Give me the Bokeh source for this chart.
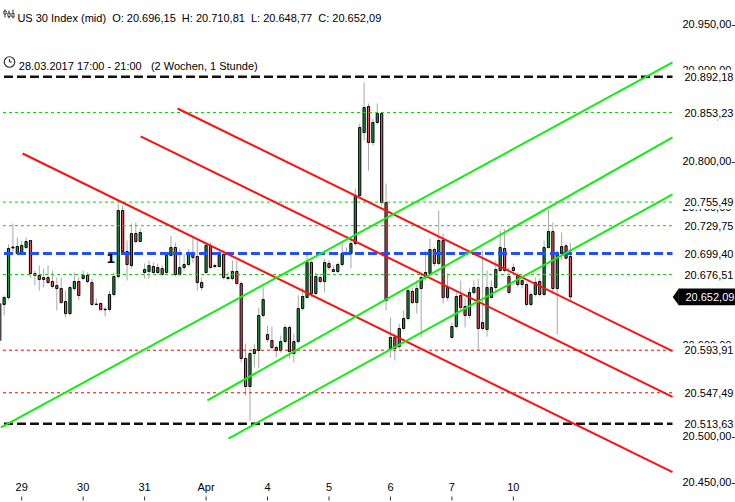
from bokeh.plotting import figure
from bokeh.models import ColumnDataSource, Range1d
from bokeh.core.properties import value
from bokeh.embed import file_html
from bokeh.resources import INLINE

# ---------------- data (hourly candles, US 30 Index) ----------------
opens = [20604.5, 20643.8, 20651.4, 20705.4, 20699.4, 20700.5, 20706.0, 20713.6, 20677.6, 20675.4,
         20673.2, 20673.2, 20668.9, 20664.5, 20661.2, 20647.0, 20633.9, 20661.2, 20668.9, 20672.1,
         20675.4, 20667.8, 20644.3, 20644.9, 20638.6, 20638.3, 20654.7, 20674.3, 20746.3, 20701.6,
         20686.3, 20721.2, 20712.5, 20678.7, 20679.8, 20685.2, 20678.7, 20683.0, 20678.7, 20697.2,
         20706.0, 20676.5, 20684.1, 20687.4, 20698.3, 20696.1, 20667.8, 20678.7, 20707.1, 20686.3,
         20685.2, 20698.3, 20673.2, 20672.1, 20679.8, 20666.7, 20584.9, 20554.3, 20590.3, 20593.6,
         20631.8, 20611.0, 20604.5, 20596.9, 20593.6, 20603.4, 20618.7, 20590.3, 20603.4, 20639.4,
         20651.4, 20689.6, 20655.8, 20673.2, 20668.9, 20688.5, 20681.9, 20679.8, 20687.4, 20700.0,
         20699.4, 20710.3, 20762.7, 20831.4, 20859.8, 20820.5, 20842.3, 20852.1, 20755.0, 20595.8,
         20607.8, 20597.9, 20617.6, 20628.5, 20658.0, 20645.9, 20661.2, 20673.2, 20677.6, 20703.8,
         20688.5, 20713.6, 20651.4, 20607.8, 20619.8, 20653.6, 20641.6, 20631.8, 20656.9, 20662.3,
         20624.1, 20616.5, 20651.4, 20662.3, 20680.9, 20704.9, 20674.3, 20684.1, 20675.4, 20665.6,
         20665.6, 20643.8, 20654.7, 20668.9, 20654.7, 20706.0, 20723.4, 20661.2, 20699.4, 20707.8,
         20696.15]
highs = [20648.1, 20653.6, 20709.3, 20732.1, 20716.9, 20713.6, 20716.9, 20713.6, 20680.9, 20686.3,
         20683.0, 20686.3, 20680.9, 20673.2, 20673.2, 20659.0, 20664.5, 20678.7, 20673.2, 20680.9,
         20678.7, 20672.1, 20650.3, 20645.9, 20640.9, 20659.0, 20678.7, 20753.9, 20751.8, 20713.6,
         20732.1, 20733.2, 20726.7, 20688.5, 20691.8, 20689.6, 20688.5, 20686.3, 20700.5, 20719.0,
         20711.4, 20704.9, 20699.4, 20703.8, 20719.0, 20713.6, 20673.2, 20710.3, 20711.4, 20688.5,
         20702.7, 20702.7, 20678.7, 20691.8, 20691.8, 20668.9, 20601.2, 20592.5, 20601.2, 20640.5,
         20663.4, 20620.8, 20619.8, 20599.0, 20609.9, 20621.9, 20620.8, 20612.1, 20653.6, 20662.3,
         20700.5, 20691.8, 20678.7, 20677.6, 20693.9, 20691.8, 20686.3, 20689.6, 20710.3, 20706.0,
         20716.9, 20770.3, 20841.2, 20886.0, 20863.1, 20846.7, 20863.1, 20852.1, 20775.8, 20629.6,
         20612.1, 20623.0, 20637.2, 20662.3, 20662.3, 20669.9, 20677.6, 20702.7, 20715.8, 20706.0,
         20746.3, 20721.2, 20677.6, 20624.1, 20659.0, 20669.9, 20651.4, 20662.3, 20669.9, 20672.1,
         20702.7, 20680.9, 20669.9, 20691.8, 20724.5, 20725.6, 20684.1, 20688.5, 20678.7, 20674.3,
         20667.8, 20658.0, 20673.2, 20672.1, 20713.6, 20747.4, 20733.2, 20702.7, 20722.3, 20710.3,
         20710.81]
lows = [20597.9, 20631.8, 20649.2, 20700.5, 20697.2, 20699.4, 20703.8, 20673.2, 20664.5, 20659.0,
        20662.3, 20666.7, 20661.2, 20637.2, 20644.9, 20629.6, 20631.8, 20659.0, 20648.1, 20671.0,
        20666.7, 20641.6, 20642.7, 20637.2, 20630.7, 20636.1, 20652.5, 20672.1, 20699.4, 20669.9,
        20683.0, 20710.3, 20711.4, 20672.1, 20672.1, 20677.6, 20676.5, 20674.3, 20676.5, 20696.1,
        20674.3, 20674.3, 20680.9, 20685.2, 20689.6, 20659.0, 20659.0, 20676.5, 20683.0, 20683.0,
        20684.1, 20671.0, 20669.9, 20669.9, 20664.5, 20580.5, 20544.5, 20517.3, 20575.1, 20574.0,
        20629.6, 20602.3, 20593.6, 20585.9, 20591.4, 20601.2, 20584.9, 20580.5, 20601.2, 20637.2,
        20650.3, 20651.4, 20653.6, 20666.7, 20656.9, 20680.9, 20678.7, 20677.6, 20685.2, 20697.2,
        20683.0, 20708.2, 20760.5, 20822.7, 20789.9, 20817.2, 20840.1, 20751.8, 20637.2, 20585.9,
        20582.7, 20595.8, 20615.4, 20626.3, 20643.8, 20633.9, 20607.8, 20669.9, 20675.4, 20685.2,
        20686.3, 20644.9, 20648.1, 20606.7, 20617.6, 20637.2, 20618.7, 20628.5, 20654.7, 20594.7,
        20615.4, 20608.8, 20650.3, 20659.0, 20678.7, 20678.7, 20654.7, 20675.4, 20662.3, 20661.2,
        20641.6, 20641.6, 20652.5, 20652.5, 20652.5, 20704.9, 20655.8, 20611.0, 20691.8, 20692.9,
        20648.77]
closes = [20644.9, 20651.4, 20704.9, 20706.5, 20707.1, 20708.2, 20712.5, 20677.6, 20675.4, 20671.0,
          20671.0, 20667.8, 20663.4, 20661.2, 20645.9, 20633.9, 20662.3, 20668.9, 20653.6, 20675.4,
          20668.9, 20643.8, 20643.8, 20638.3, 20638.0, 20654.7, 20674.3, 20746.3, 20701.6, 20687.4,
          20721.2, 20712.5, 20722.3, 20681.9, 20686.3, 20678.7, 20684.1, 20676.5, 20697.2, 20706.0,
          20676.5, 20684.1, 20687.4, 20698.3, 20695.0, 20667.8, 20662.3, 20708.2, 20684.1, 20685.2,
          20697.2, 20673.2, 20672.1, 20679.8, 20666.7, 20584.9, 20554.3, 20590.3, 20594.7, 20631.8,
          20649.2, 20605.6, 20596.9, 20593.6, 20603.4, 20618.7, 20592.5, 20603.4, 20639.4, 20652.5,
          20689.6, 20655.8, 20674.3, 20668.9, 20689.6, 20684.1, 20679.8, 20687.4, 20699.4, 20700.5,
          20710.3, 20762.7, 20836.9, 20858.7, 20820.5, 20842.3, 20852.1, 20755.0, 20648.1, 20607.8,
          20595.8, 20617.6, 20628.5, 20659.0, 20645.9, 20661.2, 20673.2, 20678.7, 20703.8, 20688.5,
          20713.6, 20651.4, 20662.3, 20619.8, 20652.5, 20640.5, 20631.8, 20656.9, 20662.3, 20617.6,
          20617.6, 20662.3, 20662.3, 20681.9, 20706.0, 20680.9, 20656.9, 20680.9, 20665.6, 20669.9,
          20643.8, 20654.7, 20667.8, 20654.7, 20706.0, 20723.4, 20661.2, 20699.8, 20707.1, 20694.3,
          20652.09]

# first candle of each trading day (index) and its label
day_ticks = [5, 19, 33, 47, 61, 75, 89, 103, 117]
day_labels = ["29", "30", "31", "Apr", "4", "5", "6", "7", "10"]

# price scale ticks
price_ticks = [20450, 20500, 20550, 20600, 20650, 20700, 20750, 20800, 20850, 20900, 20950]

# horizontal support / resistance levels
levels = [20892.18, 20853.23, 20755.49, 20729.75, 20699.40, 20676.51, 20593.91, 20547.49, 20513.63]
level_kind = ["black", "green", "green", "green", "blue", "green", "red", "red", "black"]

# trend channels: (start index, start price, end index, end price)
red_lines = [(5.2, 20808.5, 153.25, 20461.0),
             (32.1, 20827.1, 153.25, 20543.1),
             (40.5, 20857.6, 153.25, 20592.9)]
green_lines = [(0.2, 20509.6, 153.25, 20907.8),
               (47.3, 20539.1, 153.25, 20826.0),
               (52.1, 20497.6, 153.25, 20763.8)]

instrument = "US 30 Index (mid)"
period_text = "28.03.2017 17:00 - 21:00"
span_text = "(2 Wochen, 1 Stunde)"


def de(v):
    s = f"{v:,.2f}"
    return s.replace(",", "X").replace(".", ",").replace("X", ".")


# ---------------- styles / layout ----------------
FONT = "Liberation Sans"
C_UP = "#1d9a3c"
C_DN = "#ec4d5c"
C_WICK = "#a8a8a8"
C_LIME = "#11ee11"
C_RED = "#ff1010"
C_BLUE = "#1f4fff"
level_style = {
    "black": dict(color="#111111", width=2.5, dash="9 4"),
    "blue": dict(color=C_BLUE, width=3, dash="9 4"),
    "green": dict(color="#00dd00", width=1, dash="3 3"),
    "red": dict(color="#ff0000", width=1, dash="3 3"),
}
NB = "\u00a0"  # non-breaking space keeps the double spacing of the header

X0, X1 = 0.171, 167.6          # candle-index range across the canvas
Y0, Y1 = 20427.8, 20975.42     # price range across the canvas
PX = 1.0909                    # price units per screen pixel
DX = 1 / 4.39                  # index units per screen pixel
LINE_END = 153.25              # right end of drawn lines (chart area edge)
TICK_X = 155.52                # start of price scale labels
LEVEL_X = 155.98
BOX_L, BOX_R = 154.62, 168.0
ARROW_X = 153.3

p = figure(width=735, height=502, x_range=Range1d(X0, X1), y_range=Range1d(Y0, Y1),
           x_axis_location=None, y_axis_location=None,
           output_backend="svg", toolbar_location=None,
           min_border=0)
p.outline_line_color = None
p.grid.visible = False
p.background_fill_color = "white"
p.border_fill_color = "white"

n = len(opens)
xs = list(range(n))
src = ColumnDataSource(dict(
    x=xs,
    top=[max(o, c) for o, c in zip(opens, closes)],
    bottom=[min(o, c) for o, c in zip(opens, closes)],
    high=highs, low=lows,
    color=[C_UP if c >= o else C_DN for o, c in zip(opens, closes)],
))
p.segment(x0="x", y0="high", x1="x", y1="low", source=src, line_color=C_WICK, line_width=1)
p.vbar(x="x", width=0.5, top="top", bottom="bottom", source=src,
       fill_color="color", line_color="black", line_width=1)

# horizontal levels
for lv, kind in zip(levels, level_kind):
    st = level_style[kind]
    p.segment(x0=[-2], y0=[lv], x1=[LINE_END], y1=[lv], line_color=st["color"],
              line_width=st["width"], line_dash=st["dash"])

# trend lines
for (a, b, c, d) in red_lines:
    p.segment(x0=[a], y0=[b], x1=[c], y1=[d], line_color=C_RED, line_width=2)
for (a, b, c, d) in green_lines:
    p.segment(x0=[a], y0=[b], x1=[c], y1=[d], line_color=C_LIME, line_width=2)

# price scale
p.text(x=[TICK_X] * len(price_ticks), y=price_ticks, text=[de(t) + "-" for t in price_ticks],
       text_font=value(FONT), text_font_size="11px", text_color="black",
       text_baseline="middle", text_align="left")
# level labels on white backing
p.quad(left=[LEVEL_X - 0.3] * len(levels), right=[BOX_R] * len(levels),
       top=[lv + 7 * PX for lv in levels], bottom=[lv - 7 * PX for lv in levels],
       fill_color="white", line_color=None)
p.text(x=[LEVEL_X] * len(levels), y=levels, text=[de(lv) for lv in levels],
       text_font=value(FONT), text_font_size="11px", text_color="black",
       text_baseline="middle", text_align="left")

# current price marker
last = closes[-1]
p.quad(left=[BOX_L], right=[BOX_R], top=[last + 8.4 * PX], bottom=[last - 8.4 * PX],
       fill_color="black", line_color=None)
p.patch(x=[ARROW_X, BOX_L + 0.05, BOX_L + 0.05], y=[last, last + 8.4 * PX, last - 8.4 * PX],
        fill_color="black", line_color=None)
p.text(x=[156.2], y=[last], text=[de(last)], text_font=value(FONT), text_font_size="11px",
       text_color="white", text_baseline="middle", text_align="left")

# time scale
p.text(x=day_ticks, y=[Y0 + 15 * PX] * len(day_ticks), text=day_labels,
       text_font=value(FONT), text_font_size="11px", text_color="black",
       text_baseline="middle", text_align="center")
p.segment(x0=day_ticks, y0=[Y0 + 2 * PX] * len(day_ticks), x1=day_ticks,
          y1=[Y0 + 6 * PX] * len(day_ticks), line_color="#333333", line_width=1)

# event marker
p.text(x=[25.3], y=[20694.0], text=["1"], text_font=value("DejaVu Sans"), text_font_style="bold",
       text_font_size="13px", text_color="black", text_baseline="middle", text_align="center")

# header
o_, h_, l_, c_ = opens[-1], highs[-1], lows[-1], closes[-1]
sep2 = NB * 2
sep3 = NB * 3
line1 = (f"{instrument}{sep2}O:{NB}{de(o_)}{sep2}H:{NB}{de(h_)}{sep2}"
         f"L:{NB}{de(l_)}{sep2}C:{NB}{de(c_)}")
line2 = f"{period_text}{sep3}{span_text}"
p.text(x=[4.02], y=[Y1 - 17.3 * PX], text=[line1],
       text_font=value(FONT), text_font_size="11px", text_color="black",
       text_baseline="alphabetic", text_align="left")
p.text(x=[4.34], y=[Y1 - 65.7 * PX], text=[line2],
       text_font=value(FONT), text_font_size="11px", text_color="black",
       text_baseline="alphabetic", text_align="left")

# header icons: small candlestick glyph and clock
ic_x = [X0 + 4.5 * DX, X0 + 8.5 * DX, X0 + 12.5 * DX]
ic_hi = [Y1 - 9 * PX, Y1 - 10 * PX, Y1 - 9 * PX]
ic_lo = [Y1 - 17 * PX, Y1 - 18 * PX, Y1 - 18 * PX]
ic_top = [Y1 - 10.5 * PX, Y1 - 12.5 * PX, Y1 - 13 * PX]
ic_bot = [Y1 - 13.5 * PX, Y1 - 16 * PX, Y1 - 16.5 * PX]
p.segment(x0=ic_x, y0=ic_hi, x1=ic_x, y1=ic_lo, line_color="#333333", line_width=1)
p.vbar(x=ic_x, width=2.2 * DX, top=ic_top, bottom=ic_bot, fill_color="white",
       line_color="#333333", line_width=1)
clock_x = X0 + 9 * DX
clock_y = Y1 - 61.5 * PX
p.scatter(x=[clock_x], y=[clock_y], marker="circle", size=10.5, fill_color=None,
          line_color="#333333", line_width=1.2)
p.segment(x0=[clock_x, clock_x], y0=[clock_y, clock_y], x1=[clock_x, clock_x + 2.5 * DX],
          y1=[clock_y + 3 * PX, clock_y], line_color="#333333", line_width=1.2)

open("out.html", "w").write(file_html(p, INLINE))
